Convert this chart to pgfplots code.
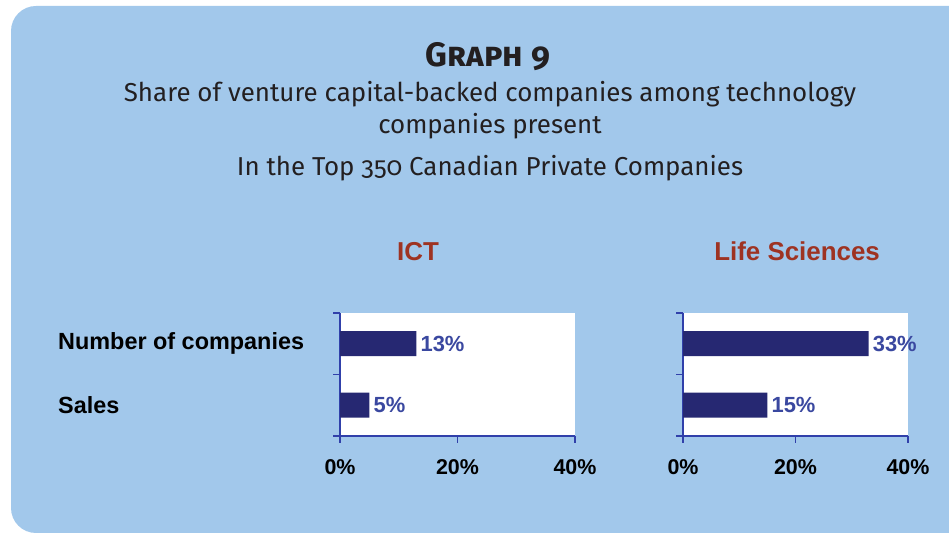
\documentclass[border=0pt]{standalone}
\usepackage{fontspec}
\setmainfont{Fira Sans}[Numbers=OldStyle]
\newfontfamily\arialfont{Liberation Sans}
\usepackage{pgfplots}
\pgfplotsset{compat=1.18}
\definecolor{bgblue}{RGB}{162,200,235}
\definecolor{barnavy}{RGB}{38,40,114}
\definecolor{vallabel}{RGB}{58,72,160}
\definecolor{axblue}{RGB}{48,64,170}
\definecolor{titlered}{RGB}{158,51,34}
\definecolor{titletext}{RGB}{35,31,32}
\pgfplotsset{
  panel/.style={
    scale only axis,
    height=123bp,
    xmin=0, xmax=40, ymin=0, ymax=2,
    enlargelimits=false,
    clip=false,
    xbar, bar width=25bp,
    axis lines*=left,
    axis line style={axblue, line width=1.2bp},
    axis background/.style={fill=white},
    tick align=outside,
    major tick length=7bp,
    tick style={axblue, line width=1.2bp},
    xtick={0,20,40},
    xticklabel={\pgfmathprintnumber{\tick}\%},
    /pgf/number format/assume math mode=true,
    xticklabel style={font=\arialfont\bfseries\fontsize{21.5}{21.5}\selectfont, text=black, yshift=-13bp},
    ytick={0,1,2},
    yticklabels={,,},
    point meta=x,
    nodes near coords={\pgfmathprintnumber{\pgfplotspointmeta}\%},
    nodes near coords style={anchor=west, text=vallabel, font=\arialfont\bfseries\fontsize{22}{22}\selectfont, inner xsep=4bp},
    title style={font=\arialfont\bfseries\fontsize{26}{26}\selectfont, text=titlered, anchor=base, yshift=47bp},
  }
}
\begin{document}
\begin{tikzpicture}
\useasboundingbox (0bp,0bp) rectangle (949bp,535bp);
\begin{scope}
\clip (0bp,0bp) rectangle (949bp,535bp);
\fill[bgblue, rounded corners=25bp] (11bp,2bp) rectangle (990bp,529bp);
\end{scope}
\node[anchor=base, text=titletext, font=\bfseries\fontsize{34}{34}\selectfont] at (488bp,468bp) {\textsc{Graph 9}};
\node[anchor=base, text=titletext, font=\fontsize{26}{26}\selectfont] at (490bp,433bp) {Share of venture capital-backed companies among technology};
\node[anchor=base, text=titletext, font=\fontsize{26}{26}\selectfont] at (490bp,401bp) {companies present};
\node[anchor=base, text=titletext, font=\fontsize{26}{26}\selectfont] at (490bp,359bp) {In the Top 350 Canadian Private Companies};

\begin{axis}[panel, at={(340bp,99bp)}, anchor=south west, width=235bp,
  title={ICT}, title style={at={(axis description cs:0.332,1)}},
  extra y ticks={0.5,1.5},
  extra y tick labels={Sales,Number of companies},
  extra y tick style={major tick length=0pt,
    yticklabel style={font=\arialfont\bfseries\fontsize{23.5}{23.5}\selectfont, text=black, anchor=west, inner xsep=0pt, xshift=-282bp}}]
\addplot[fill=barnavy, draw=none] coordinates {(5,0.5) (13,1.5)};
\end{axis}

\begin{axis}[panel, at={(683bp,99bp)}, anchor=south west, width=225bp,
  title={Life Sciences}, title style={at={(axis description cs:0.507,1)}}]
\addplot[fill=barnavy, draw=none] coordinates {(15,0.5) (33,1.5)};
\end{axis}
\end{tikzpicture}
\end{document}
